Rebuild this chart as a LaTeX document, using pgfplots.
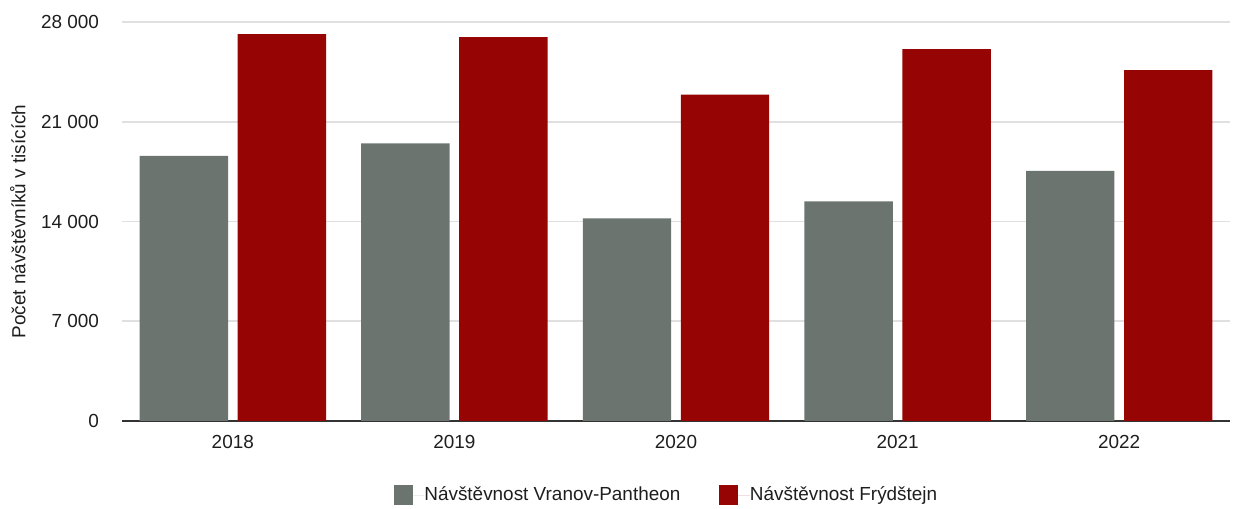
\documentclass[border=0pt]{standalone}
\usepackage{fontspec}
\setmainfont{Liberation Sans}
\usepackage{pgfplots}
\pgfplotsset{compat=1.18}

\definecolor{vpgrey}{RGB}{107,116,111}
\definecolor{frred}{RGB}{150,4,4}
\definecolor{gridc}{RGB}{224,224,224}
\definecolor{txt}{RGB}{30,30,30}

\begin{document}
\begin{tikzpicture}[font=\fontsize{9.5}{11.4}\selectfont, text=txt]
\begin{axis}[
name=ax,
scale only axis,
width=554bp,
height=199.5bp,
xmin=-0.5, xmax=4.5,
ymin=0, ymax=28000,
scaled y ticks=false,
xtick={0,1,2,3,4},
xticklabels={2018,2019,2020,2021,2022},
ytick={0,7000,14000,21000,28000},
yticklabels={0,7 000,14 000,21 000,28 000},
major tick length=0pt,
axis x line*=bottom,
axis y line*=left,
y axis line style={draw=none},
x axis line style={draw=black!80, line width=1bp},
ymajorgrids,
y grid style={gridc, line width=0.9bp},
xticklabel style={inner sep=0pt, anchor=north, yshift=-6.8bp},
yticklabel style={inner sep=0pt, anchor=east, xshift=-11.3bp},
ylabel={Počet návštěvníků v tisících},
ylabel style={at={(axis description cs:-0.0939,0.5)}, anchor=center, rotate=0},
legend columns=2,
legend style={
  at={(axis description cs:0.5,0)}, anchor=center,
  xshift=-5.25bp, yshift=-37bp,
  draw=none, fill=none,
  nodes={inner sep=0pt, anchor=west},
  /tikz/every even column/.append style={column sep=19.5bp},
},
legend image code/.code={
  \fill[#1] (0bp,-4.75bp) rectangle (9.5bp,4.75bp);
  \path (0bp,0bp) -- (15.3bp,0bp);
},
]
\addplot[ybar, bar width=44.2bp, bar shift=-24.5bp, fill=vpgrey, draw=none]
coordinates {(0,18600) (1,19480) (2,14220) (3,15410) (4,17550)};
\addlegendentry{Návštěvnost Vranov-Pantheon}
\addplot[ybar, bar width=44.2bp, bar shift=24.5bp, fill=frred, draw=none]
coordinates {(0,27150) (1,26940) (2,22900) (3,26100) (4,24630)};
\addlegendentry{Návštěvnost Frýdštejn}
\end{axis}
\pgfresetboundingbox
\path ([shift={(-61bp,-43.75bp)}]ax.south west) rectangle ([shift={(10bp,11bp)}]ax.north east);
\end{tikzpicture}
\end{document}
